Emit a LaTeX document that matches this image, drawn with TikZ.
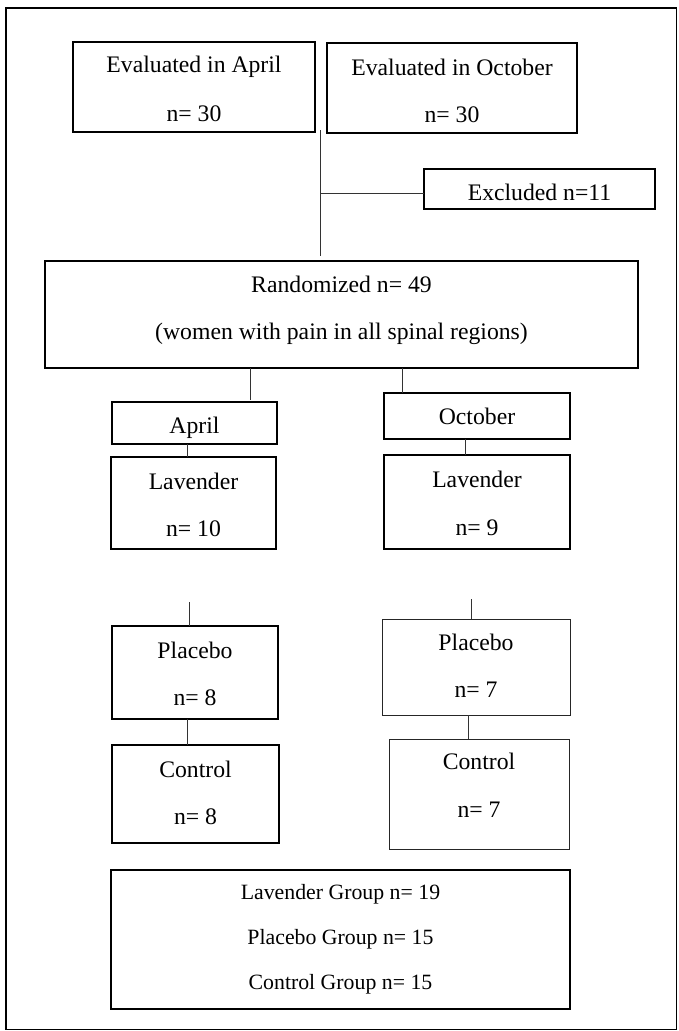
\documentclass[tikz,border=0pt]{standalone}
\usepackage{fontspec}
\setmainfont{Liberation Serif}
\usetikzlibrary{fit}
\begin{document}
\begin{tikzpicture}[x=1pt,y=-1pt,
  box/.style={draw=black, line width=1.5pt, inner sep=0pt, outer sep=0pt, rectangle},
  thinbox/.style={draw=black!85, line width=1pt, inner sep=0pt, outer sep=0pt, rectangle},
  conn/.style={draw=black!80, line width=1pt},
  txt/.style={anchor=base, inner sep=0pt, font=\fontsize{23.7}{28}\selectfont},
  stxt/.style={anchor=base, inner sep=0pt, font=\fontsize{21.8}{26}\selectfont}]
\useasboundingbox (0,0) rectangle (678,1031);
\draw[line width=1.5pt] (6,8) rectangle (676.5,1029.5);

% boxes
\node[box, fit={(73,42) (315,132)}] (ea) {};
\node[box, fit={(327,43) (577,133)}] (eo) {};
\node[box, fit={(424,169) (655,209)}] (ex) {};
\node[box, fit={(45,261) (638,368)}] (rand) {};
\node[box, fit={(112,402) (277,444)}] (apr) {};
\node[box, fit={(384,393) (570,439)}] (oct) {};
\node[box, fit={(111,457) (276,549)}] (lavL) {};
\node[box, fit={(384,455) (570,549)}] (lavR) {};
\node[box, fit={(112,626) (278,719)}] (plaL) {};
\node[box, fit={(112,745) (279,843)}] (conL) {};
\node[thinbox, fit={(382,619) (570,715)}] (plaR) {};
\node[thinbox, fit={(389,739) (569,849)}] (conR) {};
\node[box, fit={(111,870) (570,1009)}] (sum) {};

% texts
\node[txt] (t1) at (ea.center |- 0,72.7) {Evaluated in April};
\node[txt] (t2) at (ea.center |- 0,121.7) {n= 30};
\node[txt] (t3) at (eo.center |- 0,75) {Evaluated in October};
\node[txt] (t4) at (eo.center |- 0,122.7) {n= 30};
\node[txt] (t5) at (ex.center |- 0,200) {Excluded n=11};
\node[txt] (t6) at (rand.center |- 0,292) {Randomized n= 49};
\node[txt] (t7) at (rand.center |- 0,339) {(women with pain in all spinal regions)};
\node[txt] (t8) at (apr.center |- 0,433) {April};
\node[txt] (t9) at (oct.center |- 0,424.7) {October};
\node[txt] (t10) at (lavL.center |- 0,489.7) {Lavender};
\node[txt] (t11) at (lavL.center |- 0,536) {n= 10};
\node[txt] (t12) at (lavR.center |- 0,487.3) {Lavender};
\node[txt] (t13) at (lavR.center |- 0,535.3) {n= 9};
\node[txt] (t14) at (plaL.center |- 0,658.7) {Placebo};
\node[txt] (t15) at (plaL.center |- 0,705.3) {n= 8};
\node[txt] (t16) at (conL.center |- 0,777) {Control};
\node[txt] (t17) at (conL.center |- 0,824.3) {n= 8};
\node[txt] (t18) at (plaR.center |- 0,650) {Placebo};
\node[txt] (t19) at (plaR.center |- 0,697) {n= 7};
\node[txt] (t20) at (conR.center |- 0,769.3) {Control};
\node[txt] (t21) at (conR.center |- 0,817.7) {n= 7};
\node[stxt] (t22) at (sum.center |- 0,899.3) {Lavender Group n= 19};
\node[stxt] (t23) at (sum.center |- 0,944.3) {Placebo Group n= 15};
\node[stxt] (t24) at (sum.center |- 0,989.3) {Control Group n= 15};

% connectors
\coordinate (j1) at (320,130);
\coordinate (j2) at (320,256);
\coordinate (jx) at (320,193);
\draw[conn] (j1) -- (j2);
\draw[conn] (jx) -- (ex.west |- jx);
\coordinate (ra) at (250,368);
\coordinate (ra2) at (250,400);
\draw[conn] (ra) -- (ra2);
\coordinate (ro) at (402,368);
\draw[conn] (ro) -- (oct.north -| ro);
\coordinate (al) at (187.7,444);
\draw[conn] (al) -- (lavL.north -| al);
\coordinate (ol) at (465.7,439);
\draw[conn] (ol) -- (lavR.north -| ol);
\coordinate (fl) at (189.3,602);
\draw[conn] (fl) -- (plaL.north -| fl);
\coordinate (pl) at (187.3,719);
\draw[conn] (pl) -- (conL.north -| pl);
\coordinate (fr) at (471.3,599.3);
\draw[conn] (fr) -- (plaR.north -| fr);
\coordinate (pr) at (468.3,715);
\draw[conn] (pr) -- (conR.north -| pr);
\end{tikzpicture}
\end{document}
